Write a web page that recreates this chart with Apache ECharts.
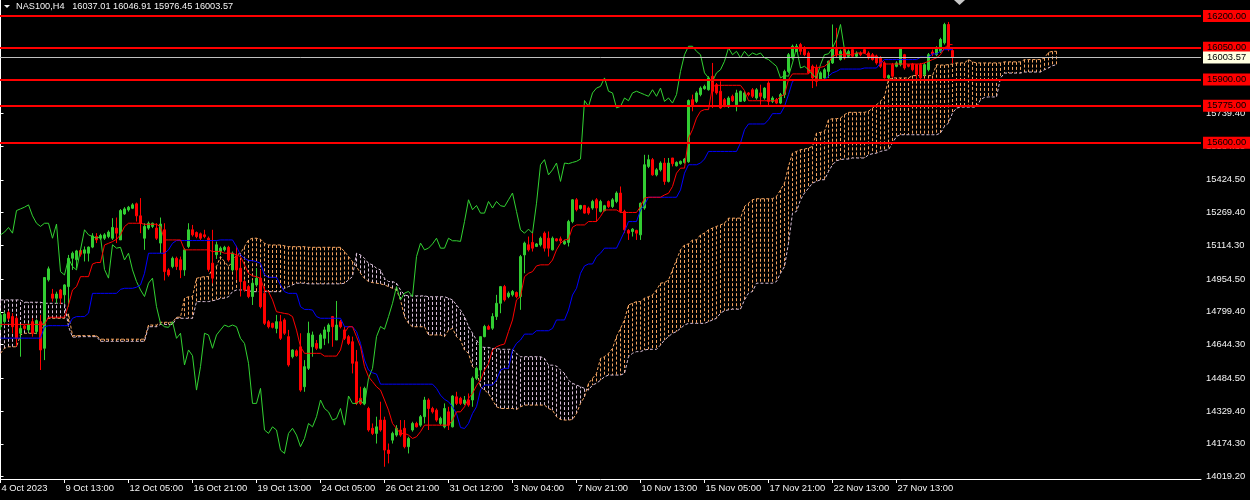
<!DOCTYPE html>
<html><head><meta charset="utf-8">
<script src="https://cdn.jsdelivr.net/npm/echarts@6.0.0/dist/echarts.min.js"></script>
<style>html,body{margin:0;padding:0;background:#000;}#c{width:1250px;height:500px;}</style>
</head><body><div id="c"></div>
<script>
const symbolName = 'NAS100,H4';
const xTickBars = [0,16,32,48,64,80,96,112,128,144,160,176,192,208,224];
const xTickLabels = ['4 Oct 2023','9 Oct 13:00','12 Oct 05:00','16 Oct 21:00','19 Oct 13:00','24 Oct 05:00','26 Oct 21:00','31 Oct 12:00','3 Nov 04:00','7 Nov 21:00','10 Nov 13:00','15 Nov 05:00','17 Nov 21:00','22 Nov 13:00','27 Nov 13:00'];
const yTickValues = [14019.2,14174.3,14329.4,14484.5,14644.3,14799.4,14954.5,15114.3,15269.4,15424.5,15584.3,15739.4,15894.5,16049.6,16204.7];
const levelLines = [16200,16050,15900,15775,15600];

const open = [
14729,14753,14796,14777,14769,14698,14733,14714,14753,14706,
14753,14627,14951,14884,14864,14903,14880,14919,15053,15046,
15090,15077,15077,15106,15156,15148,15148,15156,15148,15196,
15140,15263,15282,15290,15311,15254,15148,15196,15204,15196,
15125,15188,14998,15014,15053,15046,14998,15109,15188,15175,
15169,15164,15148,15030,15070,15085,15093,15105,14998,15061,
15006,14943,14919,14872,14927,14959,14887,14753,14745,14721,
14753,14761,14682,14587,14615,14634,14445,14532,14634,14650,
14627,14674,14706,14777,14666,14753,14714,14682,14658,14563,
14390,14366,14342,14248,14224,14287,14287,14145,14192,14216,
14240,14248,14161,14240,14271,14263,14303,14382,14342,14334,
14271,14255,14326,14255,14397,14390,14366,14382,14382,14485,
14524,14682,14730,14722,14777,14840,14919,14872,14880,14891,
14872,15069,15117,15128,15109,15117,15172,15148,15093,15145,
15145,15121,15128,15227,15330,15289,15303,15291,15291,15330,
15275,15279,15322,15298,15322,15362,15275,15185,15180,15185,
15164,15291,15488,15520,15448,15472,15504,15417,15528,15491,
15501,15507,15510,15804,15796,15828,15856,15851,15915,15875,
15844,15804,15772,15820,15780,15796,15799,15836,15851,15812,
15836,15812,15883,15796,15804,15788,15828,15938,16002,16033,
16065,16049,16025,15962,15954,15899,15907,15938,15978,16049,
15994,16049,16010,16041,16010,16025,16041,16025,16017,16010,
16002,15978,15907,15970,15962,15970,16017,15970,15973,15970,
15970,15923,15946,16030,16017,16033,16073,16160,16037.01];
const high = [
14801,14801,14805,14793,14780,14737,14737,14748,14769,14764,
14785,14962,15014,14908,14895,14908,14930,15069,15085,15093,
15096,15109,15109,15172,15172,15169,15172,15185,15243,15246,
15286,15295,15301,15314,15317,15338,15219,15227,15222,15219,
15246,15219,15006,15061,15061,15061,15101,15219,15211,15180,
15175,15188,15156,15188,15132,15109,15112,15112,15085,15112,
15046,14951,14927,14951,15006,14998,14919,14761,14748,14785,
14785,14769,14714,14622,14622,14698,14571,14753,14706,14666,
14698,14729,14745,14780,14851,14761,14729,14690,14682,14619,
14445,14445,14350,14271,14303,14374,14303,14176,14232,14263,
14287,14287,14208,14279,14279,14311,14397,14390,14350,14342,
14303,14366,14350,14405,14421,14397,14401,14413,14493,14540,
14682,14738,14738,14793,14880,14922,14927,14896,14903,14896,
15069,15132,15156,15172,15125,15156,15180,15180,15156,15148,
15156,15140,15235,15333,15338,15306,15306,15298,15330,15338,
15330,15306,15327,15338,15370,15393,15283,15191,15196,15188,
15317,15543,15543,15528,15480,15512,15528,15528,15528,15512,
15516,15528,15805,15828,15844,15867,15875,15915,15978,15883,
15891,15812,15820,15828,15851,15847,15844,15840,15859,15859,
15875,15863,15891,15820,15812,15836,15946,16025,16065,16068,
16073,16057,16033,15970,15970,15938,15954,15989,16160,16144,
16041,16052,16041,16049,16033,16033,16049,16033,16025,16017,
16010,15986,15923,15978,15986,16052,16021,15973,15978,15973,
15978,15978,16025,16041,16057,16097,16168,16172,16046.91];
const low = [
14714,14745,14758,14698,14635,14587,14714,14701,14682,14694,
14524,14571,14943,14848,14840,14835,14840,14824,14998,15006,
15061,15038,15038,15101,15125,15140,15140,15148,15140,15125,
15140,15259,15274,15286,15227,15172,15093,15188,15196,15140,
15077,14948,14966,15006,14998,14959,14970,15101,15156,15148,
15140,15148,14990,14935,15050,15069,15085,15037,14990,14951,
14872,14895,14864,14832,14919,14816,14737,14721,14721,14698,
14666,14690,14540,14579,14587,14421,14421,14524,14587,14619,
14622,14642,14650,14634,14666,14721,14666,14642,14508,14358,
14358,14358,14232,14216,14176,14232,14066,14082,14176,14208,
14208,14153,14129,14232,14252,14255,14271,14240,14318,14279,
14263,14248,14240,14252,14358,14358,14358,14350,14350,14477,
14477,14679,14714,14714,14761,14793,14848,14864,14872,14864,
14809,14982,15085,15085,15106,15109,15085,15061,15090,15133,
15125,15117,15109,15219,15275,15283,15264,15259,15283,15227,
15270,15275,15291,15291,15314,15267,15172,15140,15156,15140,
15140,15283,15480,15444,15441,15464,15401,15412,15488,15488,
15496,15501,15505,15749,15788,15820,15851,15847,15765,15828,
15761,15768,15765,15793,15749,15793,15793,15820,15812,15804,
15780,15804,15772,15788,15783,15783,15812,15931,15994,16030,
16017,16010,15926,15859,15867,15894,15904,15907,15973,16002,
15989,15994,16005,16002,16005,16010,16021,15994,15989,15970,
15954,15904,15899,15907,15957,15962,15946,15957,15938,15907,
15904,15915,15938,16010,16010,16025,16065,16033,15976.45];
const close = [
14785,14789,14769,14729,14674,14721,14721,14737,14698,14758,
14619,14962,15003,14864,14884,14864,14927,15053,15077,15088,
15072,15093,15106,15159,15140,15161,15164,15177,15199,15172,
15279,15287,15295,15306,15254,15219,15204,15219,15219,15148,
15215,14990,14974,15053,15014,14998,15093,15188,15164,15156,
15148,15156,15000,14959,15117,15101,15105,15045,15077,14998,
14943,14903,14872,14935,14959,14824,14745,14729,14726,14753,
14674,14698,14548,14619,14592,14429,14540,14698,14690,14627,
14690,14714,14737,14729,14737,14729,14674,14650,14556,14366,
14366,14437,14240,14224,14255,14240,14145,14129,14224,14248,
14216,14161,14200,14271,14255,14303,14382,14342,14326,14287,
14295,14342,14263,14401,14366,14366,14382,14358,14485,14532,
14682,14730,14717,14777,14840,14919,14856,14888,14896,14872,
15061,15125,15093,15101,15121,15148,15101,15101,15148,15136,
15136,15133,15227,15330,15283,15303,15267,15267,15322,15291,
15322,15302,15298,15330,15362,15275,15188,15172,15191,15172,
15314,15496,15520,15448,15472,15504,15417,15504,15501,15507,
15512,15523,15800,15772,15836,15859,15867,15907,15844,15836,
15765,15772,15812,15799,15836,15844,15836,15828,15820,15851,
15820,15859,15796,15812,15788,15828,15938,16017,16057,16057,
16033,16017,15931,15907,15891,15931,15946,15986,16049,16017,
16033,16002,16033,16010,16025,16017,16025,16002,15994,15978,
15962,15907,15918,15915,15978,16049,15954,15962,15946,15923,
15907,15970,16017,16021,16049,16089,16160,16041,16003.57];
const tenkan = [
14740,14740,14740,14740,14740,14740,14740,14740,14740,14740,
14740,14740,14774,14774,14774,14774,14774,14832,14903,14919,
14966,14966,14966,15026,15033,15033,15116,15124,15132,15143,
15164,15203,15219,15219,15219,15219,15214,15214,15214,15214,
15203,15140,15140,15140,15140,15140,15093,15093,15093,15093,
15093,15093,15093,15085,15085,15085,15077,15077,15077,15069,
15061,15022,14982,14970,14966,14958,14903,14895,14856,14800,
14796,14792,14789,14777,14713,14634,14603,14603,14603,14603,
14603,14590,14590,14590,14590,14619,14698,14729,14729,14682,
14634,14540,14492,14469,14445,14429,14382,14334,14271,14247,
14224,14224,14216,14200,14208,14232,14263,14263,14263,14263,
14263,14263,14263,14287,14326,14326,14350,14390,14413,14450,
14476,14524,14555,14619,14634,14642,14647,14706,14761,14856,
14872,14966,14982,14990,15017,15022,15022,15022,15045,15093,
15124,15140,15143,15200,15211,15211,15211,15227,15227,15227,
15251,15282,15282,15282,15282,15270,15270,15270,15270,15270,
15298,15338,15342,15342,15342,15342,15353,15361,15393,15456,
15480,15480,15622,15662,15717,15749,15757,15757,15867,15872,
15872,15872,15872,15872,15872,15872,15847,15799,15799,15799,
15799,15799,15799,15799,15799,15820,15828,15899,15926,15926,
15926,15926,15926,15957,15957,15957,15962,15978,16010,16017,
16017,16017,16017,16017,16025,16025,16025,16010,16010,16010,
15994,15973,15973,15973,15973,15973,15973,15973,15973,15973,
15973,15978,15986,15994,16002,16017,16049,16065,16065];
const kijun = [
14675,14675,14675,14675,14675,14675,14675,14675,14675,14675,
14675,14729,14734,14734,14734,14734,14734,14734,14769,14777,
14777,14777,14793,14887,14887,14887,14887,14887,14887,14887,
14906,14911,14911,14911,14916,14927,14982,15077,15077,15077,
15077,15077,15093,15124,15137,15137,15137,15137,15137,15137,
15137,15137,15137,15137,15137,15140,15140,15140,15140,15108,
15069,15053,15042,15042,15037,15029,14974,14963,14963,14963,
14927,14895,14887,14887,14887,14824,14811,14811,14808,14777,
14769,14769,14769,14769,14769,14769,14729,14729,14729,14706,
14650,14571,14524,14511,14505,14457,14457,14457,14457,14457,
14457,14457,14457,14457,14457,14457,14457,14457,14457,14437,
14405,14385,14374,14350,14318,14252,14247,14271,14318,14350,
14429,14453,14453,14453,14477,14524,14532,14532,14619,14650,
14666,14694,14694,14694,14710,14710,14710,14710,14721,14761,
14761,14761,14808,14879,14911,14982,15017,15026,15026,15061,
15077,15101,15101,15101,15101,15140,15180,15227,15227,15227,
15282,15306,15342,15342,15342,15342,15342,15342,15342,15342,
15377,15456,15496,15496,15496,15504,15523,15559,15559,15559,
15559,15559,15559,15559,15559,15599,15662,15689,15689,15689,
15689,15689,15709,15738,15738,15738,15772,15828,15891,15899,
15899,15899,15899,15899,15899,15899,15899,15915,15931,15938,
15949,15949,15949,15949,15949,15949,15954,15954,15954,15954,
15978,15994,15994,15994,15994,15994,15994,15994,15994,15994,
16005,16005,16005,16021,16021,16033,16041,16041,16041];
const spanA = [
14603,14627,14634,14634,14634,14690,14698,14698,14698,14698,
14698,14769,14769,14769,14769,14769,14769,14790,14687,14687,
14687,14687,14687,14687,14687,14670,14670,14670,14670,14670,
14670,14670,14670,14670,14670,14670,14670,14737,14737,14737,
14750,14750,14750,14750,14774,14774,14864,14871,14871,14958,
14963,14966,14966,15006,15014,15061,15037,15014,15037,15069,
15077,15108,15140,15148,15148,15143,15124,15116,15116,15116,
15116,15112,15108,15108,15108,15108,15108,15105,15105,15105,
15105,15105,15105,15105,15105,15105,15085,15061,15037,15014,
14982,14958,14943,14938,14935,14932,14927,14919,14911,14903,
14856,14777,14745,14729,14729,14729,14729,14690,14690,14690,
14690,14682,14713,14721,14682,14666,14619,14603,14540,14524,
14445,14429,14413,14382,14350,14342,14342,14342,14342,14337,
14350,14358,14358,14358,14358,14358,14358,14342,14334,14303,
14290,14287,14287,14290,14318,14366,14397,14461,14484,14508,
14579,14587,14603,14626,14682,14721,14761,14832,14840,14848,
14848,14864,14871,14879,14903,14935,14938,14950,14998,15045,
15093,15116,15121,15140,15140,15164,15172,15188,15196,15204,
15211,15219,15243,15243,15243,15243,15298,15314,15330,15335,
15335,15335,15335,15335,15346,15377,15409,15488,15551,15559,
15567,15570,15575,15583,15646,15649,15654,15709,15714,15714,
15717,15733,15744,15744,15744,15744,15744,15749,15764,15780,
15796,15820,15899,15907,15907,15907,15907,15907,15918,15918,
15918,15918,15918,15918,15970,15968,15968,15970,15973,15978,
15978,15978,15994,15983,15978,15978,15978,15978,15978,15978,
15978,15983,15983,15983,15983,15983,15994,15994,15994,15994,
15994,16002,16028,16033,16033];
const spanB = [
14856,14856,14856,14856,14856,14856,14845,14845,14845,14845,
14845,14840,14840,14840,14840,14840,14840,14730,14680,14680,
14682,14682,14682,14682,14682,14660,14660,14660,14660,14660,
14660,14660,14660,14660,14660,14660,14660,14729,14729,14729,
14740,14740,14740,14740,14769,14769,14769,14769,14769,14848,
14848,14848,14848,14852,14856,14864,14864,14871,14895,14903,
14903,14903,14900,14895,14895,14895,14895,14895,14895,14895,
14895,14911,14919,14927,14935,14935,14935,14932,14932,14932,
14932,14932,14932,14932,14932,14932,14935,14951,14966,15077,
15069,15053,15029,15022,15006,14998,14958,14943,14943,14935,
14903,14879,14875,14875,14875,14875,14875,14871,14871,14871,
14871,14871,14864,14856,14832,14808,14777,14730,14698,14666,
14634,14631,14631,14626,14626,14622,14622,14622,14622,14603,
14587,14587,14587,14587,14587,14587,14579,14547,14547,14543,
14524,14508,14476,14461,14453,14445,14437,14429,14453,14461,
14476,14492,14500,14500,14500,14500,14508,14587,14603,14611,
14611,14619,14622,14622,14622,14642,14666,14682,14698,14706,
14721,14737,14745,14745,14745,14745,14745,14753,14761,14769,
14793,14805,14809,14812,14812,14812,14856,14888,14896,14935,
14935,14935,14935,14935,14943,14982,15014,15125,15267,15275,
15330,15362,15385,15409,15417,15425,15425,15464,15496,15515,
15520,15523,15523,15528,15528,15528,15528,15543,15548,15551,
15559,15564,15567,15599,15630,15638,15638,15638,15638,15638,
15638,15638,15638,15638,15638,15646,15678,15693,15741,15764,
15769,15769,15769,15769,15769,15804,15815,15817,15817,15817,
15907,15930,15930,15930,15930,15930,15935,15935,15935,15935,
15935,15946,15954,15965,15970];

const FONT = 'Liberation Sans';
const TXT = '#F4F4F4';
const AXFS = 9.4;
const UP = '#32CD32', DOWN = '#FF0000';
const last = close.length - 1;
const candleData = open.map((o, i) => [i, o, close[i], low[i], high[i]]);
const asLine = arr => arr.map((v, i) => [i, v]);
const chikouData = close.slice(26).map((v, i) => [i, v]);
const cloudData = spanA.map((a, i) => [i, a, spanB[i]]);

const chart = echarts.init(document.getElementById('c'), null, {renderer: 'canvas', width: 1250, height: 500});
const levelLabel = {
  show: true, position: 'end', distance: 2, formatter: p => p.value.toFixed(2),
  color: '#000', backgroundColor: '#FF0000', fontSize: AXFS, fontFamily: FONT,
  lineHeight: 11, padding: [1, 4, 0, 4]
};
const option = {
  backgroundColor: '#000',
  animation: false,
  title: {
    text: symbolName + '   ' + [open[last], high[last], low[last], close[last]].map(v => v.toFixed(2)).join(' '),
    left: 16, top: 2, padding: 0,
    textStyle: {color: TXT, fontSize: 9.2, fontWeight: 'normal', fontFamily: FONT}
  },
  graphic: [
    {type: 'polygon', shape: {points: [[4, 5], [10, 5], [7, 8]]}, style: {fill: '#F4F4F4'}},
    {type: 'polygon', shape: {points: [[954, 0], [965, 0], [959.5, 5]]}, style: {fill: '#C8C8C8'}}
  ],
  grid: {left: 0, top: 0, width: 1201, height: 479, containLabel: false, outerBoundsMode: 'none'},
  xAxis: {
    type: 'value', min: -0.125, max: 300.125,
    axisLine: {show: true, onZero: false, lineStyle: {color: '#FFFFFF', width: 1}},
    axisTick: {show: true, customValues: xTickBars, length: 4, lineStyle: {color: '#FFFFFF'}},
    axisLabel: {
      customValues: xTickBars,
      formatter: v => { const k = xTickBars.indexOf(Math.round(v)); return k < 0 ? '' : xTickLabels[k]; },
      color: TXT, fontSize: AXFS, fontFamily: FONT, align: 'left', margin: 5, padding: [0, 0, 0, 1]
    },
    splitLine: {show: false}
  },
  yAxis: {
    type: 'value', position: 'right', min: 14008, max: 16276,
    axisLine: {show: true, lineStyle: {color: '#FFFFFF', width: 1}},
    axisTick: {show: true, customValues: yTickValues, length: 3, lineStyle: {color: '#FFFFFF'}},
    axisLabel: {customValues: yTickValues, formatter: v => v.toFixed(2), color: TXT, fontSize: AXFS, fontFamily: FONT, margin: 5},
    splitLine: {show: false}
  },
  series: [
    {
      type: 'custom', name: 'cloud', data: cloudData, z: 1, silent: true, clip: true,
      encode: {x: 0, y: [1, 2]},
      renderItem: (params, api) => {
        const a = api.coord([api.value(0), api.value(1)]);
        const b = api.coord([api.value(0), api.value(2)]);
        const up = api.value(1) >= api.value(2);
        return {type: 'line', shape: {x1: a[0], y1: a[1], x2: b[0], y2: b[1]},
          style: {stroke: up ? '#F4A460' : '#D8BFD8', lineWidth: 1, lineDash: [3, 2]}};
      }
    },
    {type: 'line', name: 'Senkou A', data: asLine(spanA), showSymbol: false, z: 1, silent: true,
      lineStyle: {color: '#F4A460', width: 1, type: [3, 2]}},
    {type: 'line', name: 'Senkou B', data: asLine(spanB), showSymbol: false, z: 1, silent: true,
      lineStyle: {color: '#D8BFD8', width: 1, type: [3, 2]}},
    {
      type: 'candlestick', name: symbolName, data: candleData, z: 3, barWidth: 2, large: false,
      encode: {x: 0, y: [1, 2, 3, 4]},
      itemStyle: {color: UP, color0: DOWN, borderColor: UP, borderColor0: DOWN, borderColorDoji: UP, borderWidth: 1},
      markLine: {
        silent: true, symbol: ['none', 'none'], animation: false,
        data: levelLines.map(v => ({yAxis: v, lineStyle: {color: '#FF0000', width: 2, type: 'solid'}, label: levelLabel}))
          .concat([{yAxis: close[last], lineStyle: {color: '#C0C0C0', width: 1, type: 'solid'},
            label: Object.assign({}, levelLabel, {backgroundColor: '#FFFFE0', formatter: p => p.value.toFixed(2)})}])
      }
    },
    {type: 'line', name: 'Chikou', data: chikouData, showSymbol: false, z: 4, silent: true,
      lineStyle: {color: '#32D232', width: 1}},
    {type: 'line', name: 'Kijun', data: asLine(kijun), showSymbol: false, z: 4, silent: true,
      lineStyle: {color: '#0000FF', width: 1}},
    {type: 'line', name: 'Tenkan', data: asLine(tenkan), showSymbol: false, z: 4, silent: true,
      lineStyle: {color: '#FF0000', width: 1}}
  ]
};
chart.setOption(option);
</script>
</body></html>
